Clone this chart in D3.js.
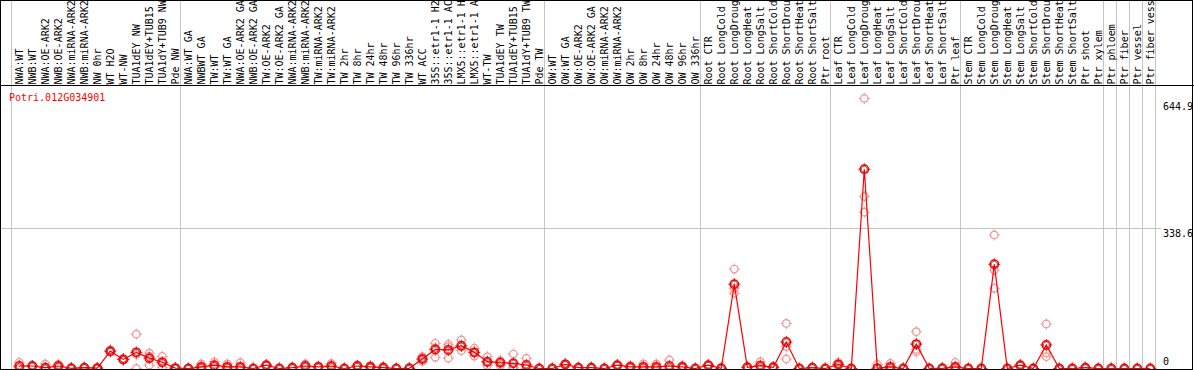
<!DOCTYPE html>
<html><head><meta charset="utf-8">
<script src="https://cdnjs.cloudflare.com/ajax/libs/d3/7.8.5/d3.min.js"></script>
<style>
html,body{margin:0;padding:0;background:#fff;}
svg{display:block;}
text{font-family:"DejaVu Sans Mono",monospace;font-size:10px;}
</style></head>
<body><svg id="c" width="1194" height="370"></svg>
<script>
const geneName = "Potri.012G034901";
const categories = [
 "NWA:WT","NWB:WT","NWA:OE-ARK2","NWB:OE-ARK2","NWA:miRNA-ARK2","NWB:miRNA-ARK2","NW 0hr","WT H2O","WT-NW","TUA1dEY NW","TUA1dEY+TUB15","TUA1dY+TUB9 NW","Pde NW",
 "NWA:WT GA","NWBWT GA","TW:WT","TW:WT GA","NWA:OE-ARK2 GA","NWB:OE-ARK2 GA","TW:OE-ARK2","TW:OE-ARK2 GA","NWA:miRNA-ARK2","NWB:miRNA-ARK2","TW:miRNA-ARK2","TW:miRNA-ARK2","TW 2hr","TW 8hr","TW 24hr","TW 48hr","TW 96hr","TW 336hr","WT ACC","35S::etr1-1 H2","35S::etr1-1 AC","LMX5::etr1-1 H","LMX5::etr1-1 A","WT-TW","TUA1dEY TW","TUA1dEY+TUB15","TUA1dY+TUB9 TW","Pde TW",
 "OW:WT","OW:WT GA","OW:OE-ARK2","OW:OE-ARK2 GA","OW:miRNA-ARK2","OW:miRNA-ARK2","OW 2hr","OW 8hr","OW 24hr","OW 48hr","OW 96hr","OW 336hr",
 "Root CTR","Root LongCold","Root LongDroug","Root LongHeat","Root LongSalt","Root ShortCold","Root ShortDrou","Root ShortHeat","Root ShortSalt","Ptr root",
 "Leaf CTR","Leaf LongCold","Leaf LongDroug","Leaf LongHeat","Leaf LongSalt","Leaf ShortCold","Leaf ShortDrou","Leaf ShortHeat","Leaf ShortSalt","Ptr leaf",
 "Stem CTR","Stem LongCold","Stem LongDroug","Stem LongHeat","Stem LongSalt","Stem ShortCold","Stem ShortDrou","Stem ShortHeat","Stem ShortSalt","Ptr shoot","Ptr xylem",
 "Ptr phloem","Ptr fiber","Ptr vessel","Ptr fiber vess"
];
// number of categories in each separated group
const groupSizes = [13, 28, 12, 10, 10, 11, 1, 1, 1, 1];

const means = [
 6,6,2,6,0.5,2,1,42,22,39,25,15,1,
 0,4,8,4,4,0,8,0,2,6,4,6,0,6,4,2,0,0.5,23,46,45,55,39,16.5,14,12.5,8.5,0,
 0,10,2,2,0,8,4,4,4,6,4,0,
 8,0.5,204,3,7,3,64,0,2,0,
 10,0,482,0.5,4,0,59,0,0.5,4,
 0,0,252,0,8,0,57,0,0,2,0,
 0,0,0,0
];
const rep1 = [
 15,7,11,10,1,3,1,45,24,83,37,29,1,
 0,11,16,11,14,0,9,0,3,11,5,12.5,0,8,7,5,0,1,29,61,58.5,69,49,28.5,19,35,24.5,0,
 0,12,3,3,0,9,7,11,11,20.5,7,0,
 9,1,240.5,4,16.5,4,109,0,3,0,
 15,0,653,10,12.5,0,89,0,1,15,
 0,0,323,0,9,0,107.6,0,0,3,0,
 0,0,0,0
];
const rep2 = [
 2,6,0,5,0,2,1,40,22,34,30,14,1,
 0,1,5,1,0,0,8,0,2,4,4,3,0,6,3,1,0,0,23,27,53,53,38,14,16,2,1,0,
 0,10,2,2,0,8,3,1,1,0,3,0,
 8,0,194,3,3,3,53,0,2,0,
 10,0,378,0,0,0,46,0,0,0,
 0,0,238,0,8,0,38,0,0,2,0,
 0,0,0,0
];
const rep3 = [
 1,5,0,3,0.5,1,1,41,20,0,8,2,1,
 0,0,3,0,0,0,7,0,1,3,3,2.5,0,4,2,0,0,0,17,50,25,43,30,7,7,1,0,0,
 0,8,1,1,0,7,2,0,0,0,2,0,
 7,0.5,182,2,1,2,23,0,1,0,
 5,0,416,0,0,0,40.6,0,0.5,0,
 0,0,194,0,7,0,28.5,0,0,1,0,
 0,0,0,0
];
const yTicks = [644.9, 338.6, 0];

const W = 1194, H = 370;
const svg = d3.select("#c");
const idx = d3.range(categories.length);
const x = d3.scaleBand().domain(idx).range([11, 11 + 13 * categories.length]).padding(0);
const px = i => x(i) + 8.3;
const y = d3.scaleLinear().domain([0, 644.9]).range([368.5, 101.85]);

const defs = svg.append("defs");
defs.append("clipPath").attr("id","plotclip").append("rect")
  .attr("x",1).attr("y",86).attr("width",1191).attr("height",283);

// group separators
let cum = 0;
const bounds = [0];
groupSizes.forEach(s => { cum += s; bounds.push(cum); });
svg.append("g").selectAll("line").data(bounds).join("line")
  .attr("x1", k => Math.floor(x.range()[0] + k * x.step()) + 0.5)
  .attr("x2", k => Math.floor(x.range()[0] + k * x.step()) + 0.5)
  .attr("y1", 0).attr("y2", 369)
  .attr("stroke", "#c4c4c4").attr("stroke-width", 1);

// horizontal gridline
svg.append("line")
  .attr("x1", 0).attr("x2", 1161)
  .attr("y1", Math.round(y(338.6)) + 0.5).attr("y2", Math.round(y(338.6)) + 0.5)
  .attr("stroke", "#c4c4c4").attr("stroke-width", 1);

// category labels (rotated)
svg.append("g").selectAll("text").data(idx).join("text")
  .attr("transform", i => `translate(${px(i)},84.5) rotate(-90)`)
  .attr("dy", "0.4em")
  .attr("fill", "#000")
  .text(i => categories[i]);

// frame lines
svg.append("line").attr("x1",0).attr("x2",W).attr("y1",85.5).attr("y2",85.5).attr("stroke","#000");
svg.append("rect").attr("x",0.5).attr("y",0.5).attr("width",1192).attr("height",369)
  .attr("fill","none").attr("stroke","#000");

// gene name
svg.append("text").attr("x", 9).attr("y", 101).attr("fill", "#ff0000").text(geneName);

// y tick labels
svg.append("g").selectAll("text").data(yTicks).join("text")
  .attr("x", 1163)
  .attr("y", v => v === 0 ? y(v) - 3.5 : y(v) + 8.5)
  .attr("fill", "#000")
  .text(v => v === 0 ? "0" : d3.format(".1f")(v));

const plot = svg.append("g").attr("clip-path","url(#plotclip)");

function marker(g, r, color, sw) {
  g.append("circle").attr("r", r).attr("fill","none").attr("stroke", color).attr("stroke-width", sw);
  [[0,-1],[0,1],[-1,0],[1,0]].forEach(([dx,dy]) => {
    g.append("line")
      .attr("x1", dx*(r-1)).attr("y1", dy*(r-1))
      .attr("x2", dx*(r+1.8)).attr("y2", dy*(r+1.8))
      .attr("stroke", color).attr("stroke-width", 1);
  });
}

// replicates
const reps = [];
[rep1, rep2, rep3].forEach(arr => arr.forEach((v, i) => reps.push({i, v})));
plot.append("g").selectAll("g").data(reps).join("g")
  .attr("transform", d => `translate(${px(d.i)},${y(d.v)})`)
  .each(function(){ marker(d3.select(this), 3.8, "#f09a9a", 1.2); });

// mean line
plot.append("path")
  .datum(idx)
  .attr("fill","none").attr("stroke","#ff0000").attr("stroke-width",1.2)
  .attr("d", d3.line().x(i => px(i)).y(i => y(means[i])));

// means
plot.append("g").selectAll("g").data(idx).join("g")
  .attr("transform", i => `translate(${px(i)},${y(means[i])})`)
  .each(function(){
    const g = d3.select(this);
    marker(g, 4.2, "#ff0000", 1.5);
    g.append("circle").attr("r", 3).attr("fill","none").attr("stroke","#600").attr("stroke-width",0.6);
  });
</script>
</body></html>
